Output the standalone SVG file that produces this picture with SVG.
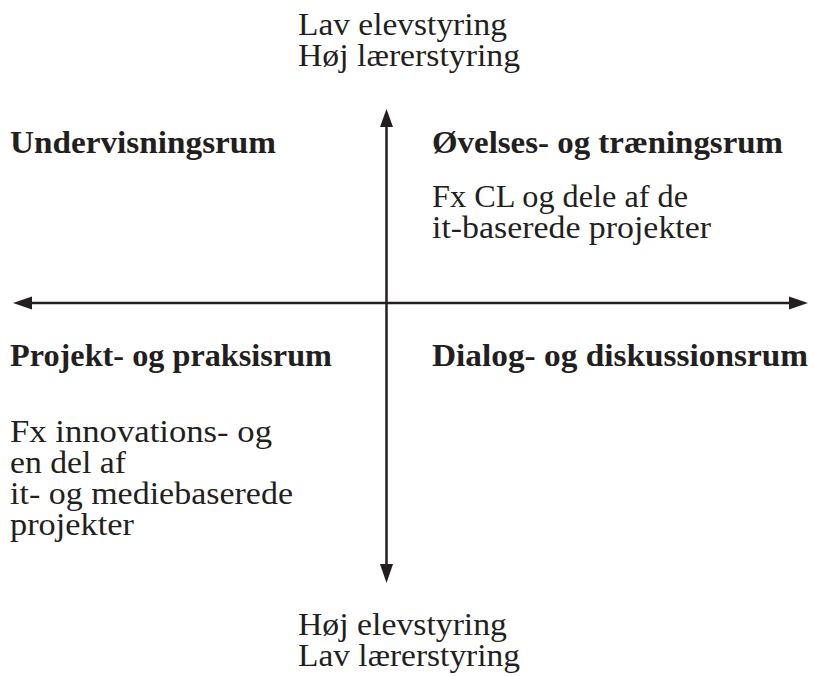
<svg xmlns="http://www.w3.org/2000/svg" width="814" height="676" viewBox="0 0 814 676">
<style>
text{font-family:"Liberation Serif","Times New Roman",serif;font-size:31px;fill:#231f20}
.b{font-weight:bold}
.ax{stroke:#231f20;stroke-width:2.5;fill:none}
.ah{fill:#231f20}
</style>
<rect width="814" height="676" fill="#fff"/>
<g id="connectors">
<line class="ax" x1="30" y1="303" x2="792" y2="303"/>
<polygon class="ah" points="13,303 32,296.5 32,309.5"/>
<polygon class="ah" points="808,303 789,296.5 789,309.5"/>
<line class="ax" x1="386.5" y1="124" x2="386.5" y2="566"/>
<polygon class="ah" points="386.5,109 380,127 393,127"/>
<polygon class="ah" points="386.5,583 380,564 393,564"/>
</g>
<g id="top-label">
<text x="298" y="35" textLength="209" lengthAdjust="spacingAndGlyphs">Lav elevstyring</text>
<text x="298" y="66" textLength="222" lengthAdjust="spacingAndGlyphs">Høj lærerstyring</text>
</g>
<g id="bottom-label">
<text x="298" y="635" textLength="209" lengthAdjust="spacingAndGlyphs">Høj elevstyring</text>
<text x="298" y="666" textLength="222" lengthAdjust="spacingAndGlyphs">Lav lærerstyring</text>
</g>
<g id="undervisningsrum">
<text class="b" x="10" y="153" textLength="266" lengthAdjust="spacingAndGlyphs">Undervisningsrum</text>
</g>
<g id="oevelsesrum">
<text class="b" x="432" y="153" textLength="351" lengthAdjust="spacingAndGlyphs">Øvelses- og træningsrum</text>
<text x="432" y="207" textLength="256" lengthAdjust="spacingAndGlyphs">Fx CL og dele af de</text>
<text x="432" y="238" textLength="279" lengthAdjust="spacingAndGlyphs">it-baserede projekter</text>
</g>
<g id="projektrum">
<text class="b" x="10" y="366" textLength="322" lengthAdjust="spacingAndGlyphs">Projekt- og praksisrum</text>
<text x="10" y="442" textLength="262" lengthAdjust="spacingAndGlyphs">Fx innovations- og</text>
<text x="10" y="473" textLength="116" lengthAdjust="spacingAndGlyphs">en del af</text>
<text x="10" y="504" textLength="283" lengthAdjust="spacingAndGlyphs">it- og mediebaserede</text>
<text x="10" y="535" textLength="124" lengthAdjust="spacingAndGlyphs">projekter</text>
</g>
<g id="dialogrum">
<text class="b" x="432" y="366" textLength="376" lengthAdjust="spacingAndGlyphs">Dialog- og diskussionsrum</text>
</g>
</svg>
